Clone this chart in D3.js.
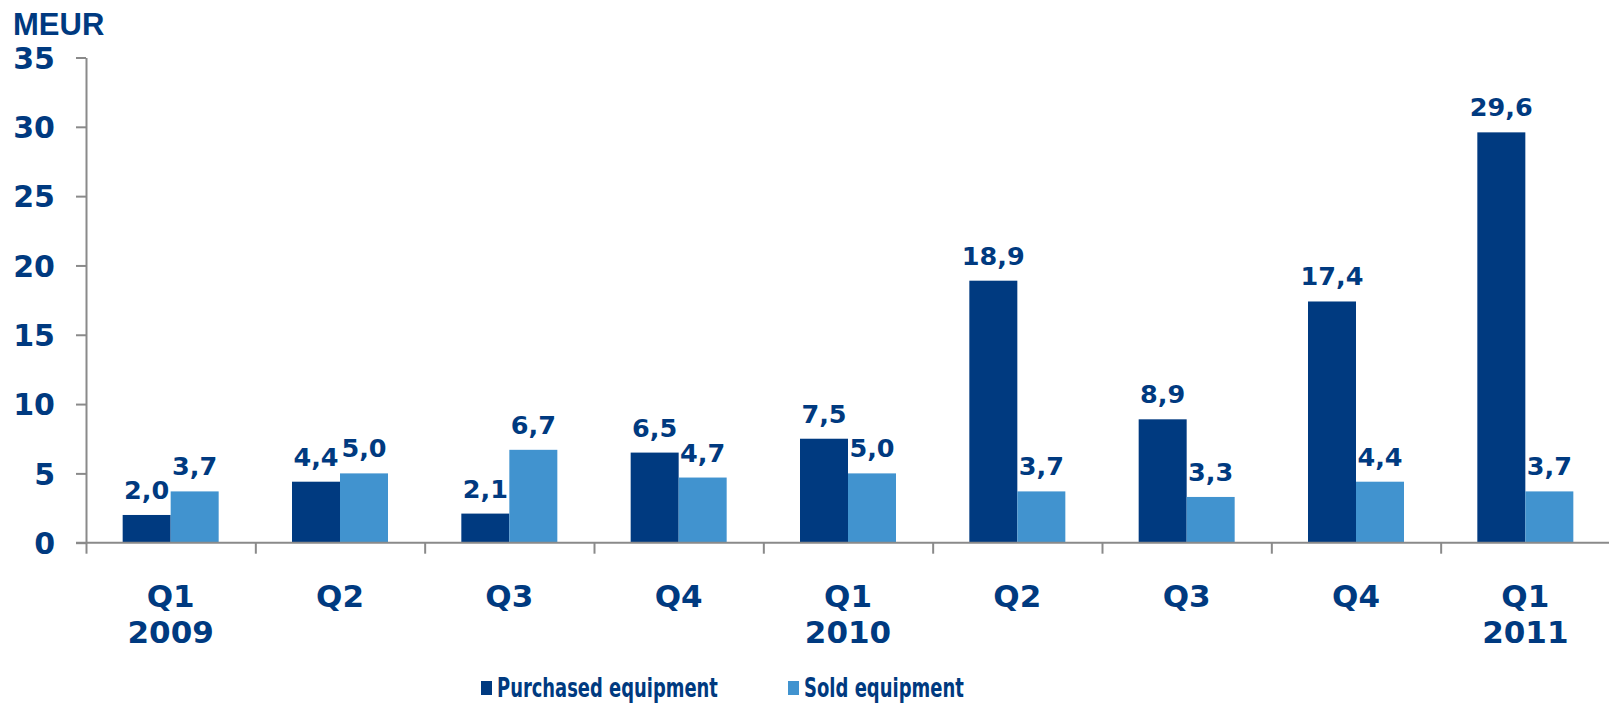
<!DOCTYPE html>
<html>
<head>
<meta charset="utf-8">
<script src="https://cdn.jsdelivr.net/npm/d3@7"></script>
<style>
  body { margin: 0; background: #fff; }
  text { font-family: "DejaVu Sans", Verdana, sans-serif; font-weight: bold; fill: #003a80; }
</style>
</head>
<body>
<script>
// chart data
var quarters = ["Q1", "Q2", "Q3", "Q4", "Q1", "Q2", "Q3", "Q4", "Q1"];
var years = ["2009", "", "", "", "2010", "", "", "", "2011"];
var purchased = [2.0, 4.4, 2.1, 6.5, 7.5, 18.9, 8.9, 17.4, 29.6];
var sold = [3.7, 5.0, 6.7, 4.7, 5.0, 3.7, 3.3, 4.4, 3.7];
var seriesNames = ["Purchased equipment", "Sold equipment"];
var colors = ["#003a80", "#4193cf"];
var yTicks = [0, 5, 10, 15, 20, 25, 30, 35];

var width = 1609, height = 703;
var plotLeft = 86, plotRight = 1610, plotTop = 57.5, plotBottom = 542.7;

var svg = d3.select("body").append("svg")
    .attr("width", width)
    .attr("height", height);

var y = d3.scaleLinear().domain([0, 35]).range([plotBottom, plotTop]);
var x = d3.scaleBand().domain(d3.range(quarters.length)).range([plotLeft, plotRight]).padding(0);
var bw = x.bandwidth();
var barW = 48;
var x1 = d3.scaleBand().domain([0, 1]).range([bw / 2 - barW, bw / 2 + barW]);

var fmt = function(v) { return d3.format(".1f")(v).replace(".", ","); };

// bars + value labels
var series = [purchased, sold];
series.forEach(function(vals, s) {
    svg.append("g").selectAll("rect")
        .data(vals).enter()
        .append("rect")
        .attr("x", function(d, i) { return x(i) + x1(s); })
        .attr("y", function(d) { return y(d); })
        .attr("width", x1.bandwidth())
        .attr("height", function(d) { return plotBottom - y(d); })
        .attr("fill", colors[s]);

    svg.append("g").selectAll("text")
        .data(vals).enter()
        .append("text")
        .attr("x", function(d, i) { return x(i) + x1(s) + x1.bandwidth() / 2; })
        .attr("y", function(d) { return y(d) - 16; })
        .attr("text-anchor", "middle")
        .style("font-size", "25.5px")
        .text(fmt);
});

// y axis
var yAxis = d3.axisLeft(y).tickValues(yTicks).tickSize(10).tickSizeOuter(0).tickPadding(21);
var gy = svg.append("g")
    .attr("transform", "translate(" + plotLeft + ",0)")
    .call(yAxis);
gy.selectAll("path, line").attr("stroke", "#8a8a8a").attr("stroke-width", 2);
gy.selectAll("text").style("font-size", "30px").attr("fill", "#003a80").attr("dy", "0.36em");

// x axis: ticks at category boundaries
var xIdx = d3.scaleLinear().domain([0, quarters.length]).range([plotLeft, plotRight]);
var xAxis = d3.axisBottom(xIdx).tickValues(d3.range(quarters.length + 1)).tickFormat("").tickSize(11).tickSizeOuter(0);
var gx = svg.append("g")
    .attr("transform", "translate(0," + plotBottom + ")")
    .call(xAxis);
gx.selectAll("path, line").attr("stroke", "#8a8a8a").attr("stroke-width", 2);
gx.select(".domain").attr("d", "M" + (plotLeft - 10) + ",0H" + plotRight);

// category labels
var cat = svg.append("g").selectAll("text")
    .data(quarters).enter()
    .append("text")
    .attr("x", function(d, i) { return x(i) + bw / 2; })
    .attr("y", 607)
    .attr("text-anchor", "middle")
    .style("font-size", "31px");
cat.append("tspan").text(function(d) { return d; });
cat.append("tspan")
    .attr("x", function(d, i) { return x(i) + bw / 2; })
    .attr("y", 643)
    .text(function(d, i) { return years[i]; });

// unit label
svg.append("text")
    .attr("x", 13)
    .attr("y", 35)
    .style("font-family", "'Liberation Sans', Arial, sans-serif")
    .style("font-size", "31px")
    .text("MEUR");

// legend (text is squeezed horizontally like the original)
var legX = [481, 788];
var legW = [221, 160];
var leg = svg.append("g").selectAll("g")
    .data(seriesNames).enter()
    .append("g")
    .attr("transform", function(d, i) { return "translate(" + legX[i] + ",0)"; });
leg.append("rect")
    .attr("x", 0).attr("y", 681)
    .attr("width", 11).attr("height", 14)
    .attr("fill", function(d, i) { return colors[i]; });
leg.append("text")
    .attr("x", 0)
    .attr("y", 697)
    .style("font-size", "27px")
    .text(function(d) { return d; })
    .attr("transform", function(d, i) {
        var sx = legW[i] / this.getComputedTextLength();
        return "translate(16,0) scale(" + sx + ",1)";
    });
</script>
</body>
</html>
